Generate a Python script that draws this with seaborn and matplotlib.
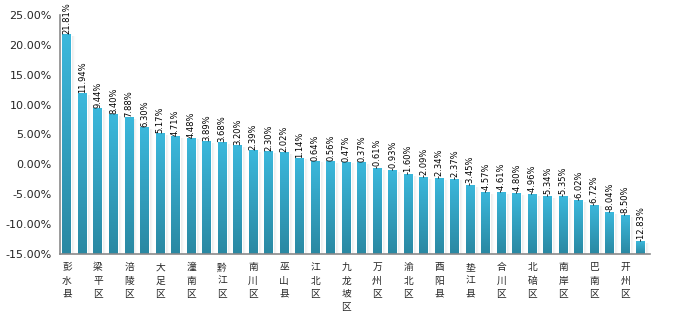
import numpy as np
import pandas as pd
import matplotlib
matplotlib.use("Agg")
import matplotlib.pyplot as plt
import seaborn as sns
from matplotlib.colors import LinearSegmentedColormap

# Year-on-year change by district (%), sorted descending
values = [21.81, 11.94, 9.44, 8.40, 7.88, 6.30, 5.17, 4.71, 4.48, 3.89,
          3.68, 3.20, 2.39, 2.30, 2.02, 1.14, 0.64, 0.56, 0.47, 0.37,
          -0.61, -0.93, -1.60, -2.09, -2.34, -2.37, -3.45, -4.57, -4.61, -4.80,
          -4.96, -5.34, -5.35, -6.02, -6.72, -8.04, -8.50, -12.83]
# Axis shows every other district name
shown_labels = ["彭水县", "梁平区", "涪陵区", "大足区", "潼南区", "黔江区", "南川区",
                "巫山县", "江北区", "九龙坡区", "万州区", "渝北区", "酉阳县", "垫江县",
                "合川区", "北碚区", "南岸区", "巴南区", "开州区"]
y_ticks = [-15, -10, -5, 0, 5, 10, 15, 20, 25]

FLOOR = -15
sns.set_theme(style="white")
plt.rcParams["font.family"] = ["DejaVu Sans", "Noto Sans CJK SC"]

fig = plt.figure(figsize=(6.91, 3.23), dpi=100)
ax = fig.add_axes([60 / 691, 1 - 254 / 323, 590 / 691, 239 / 323])

df = pd.DataFrame({"pos": np.arange(len(values)),
                   "rise": np.array(values) - FLOOR})
sns.barplot(data=df, x="pos", y="rise", bottom=FLOOR, width=0.58,
            color="#32a5c6", errorbar=None, ax=ax, zorder=3)

# Vertical gradient fill and soft right-hand shadow for each bar
cmap = LinearSegmentedColormap.from_list("bar", ["#2a88a2", "#3bb8dc"])
grad = np.linspace(0, 1, 256).reshape(-1, 1)
shadow_cmap = LinearSegmentedColormap.from_list(
    "shadow", [(0.80, 0.80, 0.80, 0.8), (1, 1, 1, 0.0)])
hgrad = np.linspace(0, 1, 64).reshape(1, -1)
for bar in ax.patches:
    x, y = bar.get_x(), bar.get_y()
    w, h = bar.get_width(), bar.get_height()
    im = ax.imshow(grad, extent=[x, x + w, y, y + h], origin="lower",
                   cmap=cmap, aspect="auto", zorder=3.5, interpolation="bilinear")
    im.set_clip_path(bar)
    ax.imshow(hgrad, extent=[x + w, x + w + 0.28, y, y + h - 0.4],
              cmap=shadow_cmap, aspect="auto", zorder=2, interpolation="bilinear")

for i, v in enumerate(values):
    ax.text(i, v, f"{v:.2f}%", rotation=90, ha="center", va="bottom",
            fontsize=6, color="black", zorder=5)

ax.set_xlim(-0.45, 37.6)
ax.set_ylim(-15, 25)
ax.set_yticks(y_ticks)
ax.set_yticklabels([f"{t:.2f}%" for t in y_ticks], fontsize=8)
ax.set_xticks(np.arange(0, len(values), 2))
ax.set_xticklabels(["\n".join(s) for s in shown_labels],
                   fontsize=7, family=["Noto Sans CJK SC"], linespacing=1.4)
ax.tick_params(axis="both", length=0)
ax.tick_params(axis="y", pad=6)
ax.tick_params(axis="x", pad=6)
ax.set_xlabel("")
ax.set_ylabel("")
for side in ("top", "right"):
    ax.spines[side].set_visible(False)
for side in ("left", "bottom"):
    ax.spines[side].set_color("#8a8a8a")
    ax.spines[side].set_linewidth(1.2)
    ax.spines[side].set_zorder(6)

fig.savefig("out.png", dpi=100)
